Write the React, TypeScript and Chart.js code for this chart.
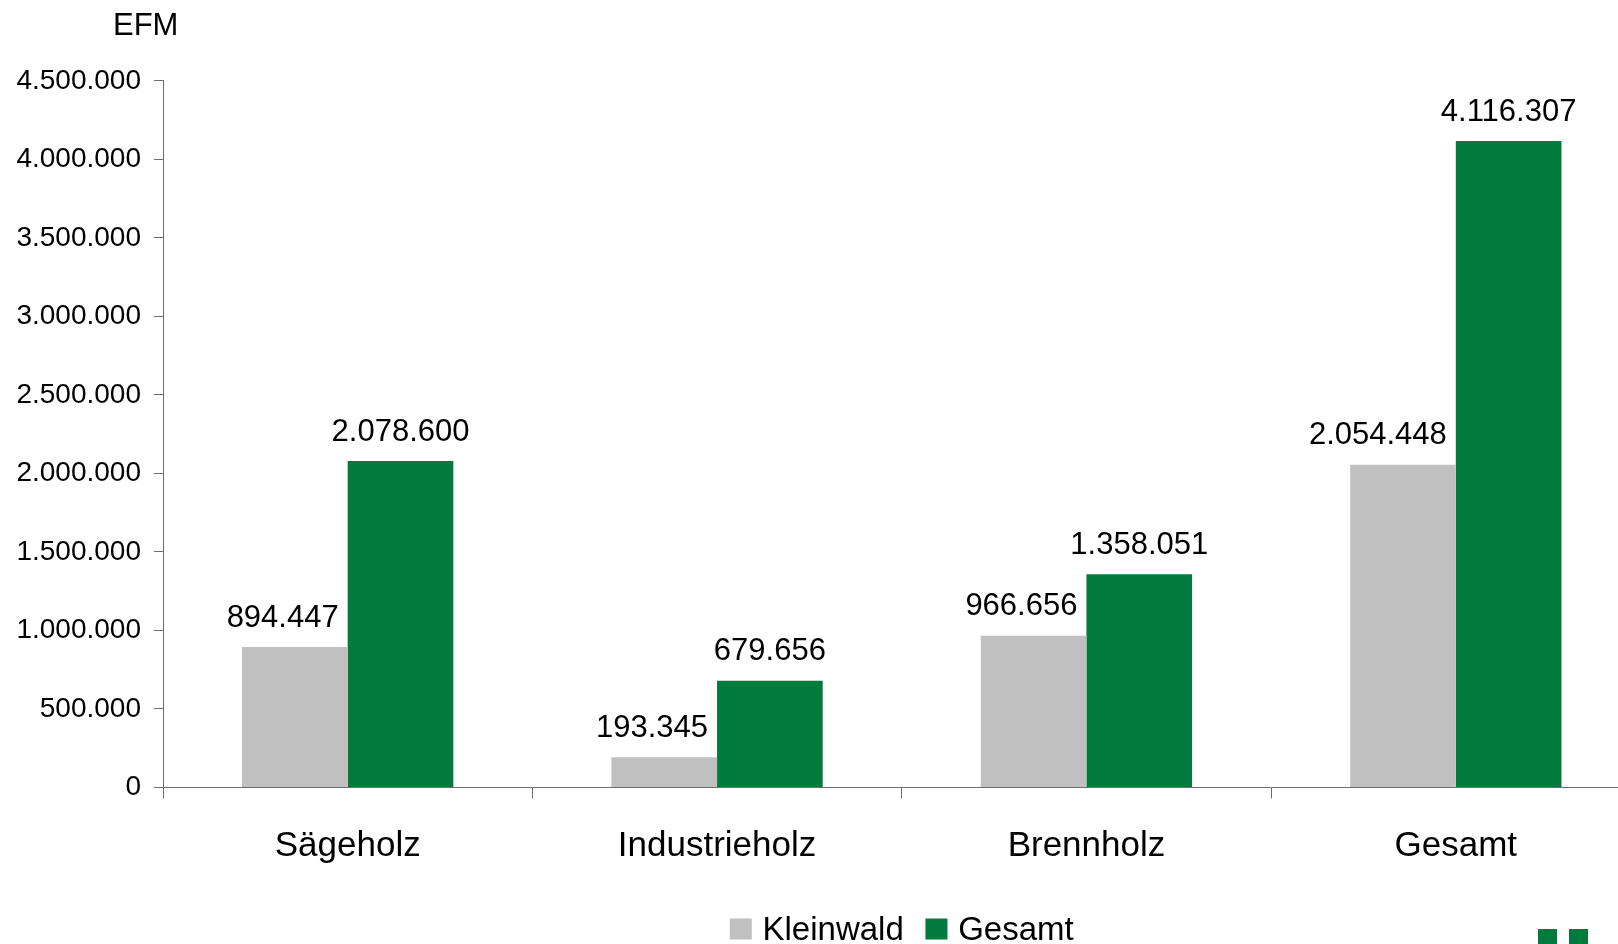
import React, { useEffect, useRef } from 'react';
import { Chart, registerables } from 'chart.js';

Chart.register(...registerables);

const categories = ['Sägeholz', 'Industrieholz', 'Brennholz', 'Gesamt'];
const kleinwaldValues = [894447, 193345, 966656, 2054448];
const gesamtValues = [2078600, 679656, 1358051, 4116307];
const seriesLabels = ['Kleinwald', 'Gesamt'];
const seriesColors = ['#C0C0C0', '#007A3D'];
const yMin = 0;
const yMax = 4500000;
const yStep = 500000;
const unitLabel = 'EFM';

const FONT = '"Liberation Sans", Arial, Helvetica, sans-serif';
const AXIS_COLOR = '#6e6e6e';
const W = 1804;
const H = 944;

const fmt = (v: number) => String(Math.round(v)).replace(/\B(?=(\d{3})+(?!\d))/g, '.');

const decorPlugin = {
  id: 'decor',
  afterDatasetsDraw(chart: any) {
    const ctx = chart.ctx as CanvasRenderingContext2D;
    const m0 = chart.getDatasetMeta(0);
    const m1 = chart.getDatasetMeta(1);
    ctx.save();
    ctx.font = `31px ${FONT}`;
    ctx.fillStyle = '#000';
    ctx.textBaseline = 'alphabetic';
    ctx.textAlign = 'center';
    m1.data.forEach((bar: any, i: number) => {
      const v = chart.data.datasets[1].data[i] as number;
      ctx.fillText(fmt(v), bar.x, bar.y - 20.5);
    });
    m0.data.forEach((bar: any, i: number) => {
      const v = chart.data.datasets[0].data[i] as number;
      const t = fmt(v);
      const w = ctx.measureText(t).width;
      const g = m1.data[i];
      const gl = g.x - g.width / 2;
      const cx = Math.min(bar.x, gl - 9 - w / 2);
      ctx.fillText(t, cx, bar.y - 20.5);
    });
    ctx.restore();
  },
  afterDraw(chart: any) {
    const ctx = chart.ctx as CanvasRenderingContext2D;
    const area = chart.chartArea;
    ctx.save();
    // unit label
    ctx.font = `31px ${FONT}`;
    ctx.fillStyle = '#000';
    ctx.textAlign = 'left';
    ctx.textBaseline = 'alphabetic';
    ctx.fillText(unitLabel, area.left - 50, 35);

    // legend
    ctx.font = `33px ${FONT}`;
    const boxW = 22;
    const boxH = 21;
    const gapBox = 10.7;
    const gapItem = 21.7;
    const widths = chart.data.datasets.map((d: any) => ctx.measureText(d.label).width);
    let total = 0;
    widths.forEach((w: number, i: number) => {
      total += boxW + gapBox + w + (i < widths.length - 1 ? gapItem : 0);
    });
    let x = (area.left + area.right) / 2 - total / 2;
    const boxTop = 918.5;
    const baseline = 939.5;
    chart.data.datasets.forEach((d: any, i: number) => {
      ctx.fillStyle = d.backgroundColor;
      ctx.fillRect(x, boxTop, boxW, boxH);
      x += boxW + gapBox;
      ctx.fillStyle = '#000';
      ctx.fillText(d.label, x, baseline);
      x += widths[i] + gapItem;
    });

    // corner logo fragment
    ctx.fillStyle = '#007A3D';
    ctx.fillRect(1538, 929, 19, 20);
    ctx.fillRect(1569, 929, 19, 20);
    ctx.restore();
  },
};

export default function App() {
  const ref = useRef<HTMLCanvasElement | null>(null);

  useEffect(() => {
    if (!ref.current) return;
    const chart = new Chart(ref.current, {
      type: 'bar',
      data: {
        labels: categories,
        datasets: [
          {
            label: seriesLabels[0],
            data: kleinwaldValues,
            backgroundColor: seriesColors[0],
            borderWidth: 0,
            categoryPercentage: 0.572,
            barPercentage: 1,
          },
          {
            label: seriesLabels[1],
            data: gesamtValues,
            backgroundColor: seriesColors[1],
            borderWidth: 0,
            categoryPercentage: 0.572,
            barPercentage: 1,
          },
        ],
      },
      options: {
        responsive: false,
        animation: false,
        devicePixelRatio: 1,
        layout: { padding: { top: 80.8, right: W - 1640.5, bottom: 0, left: 0 } },
        plugins: {
          legend: { display: false },
          title: { display: false },
          tooltip: { enabled: false },
        },
        scales: {
          x: {
            grid: {
              offset: true,
              drawOnChartArea: false,
              drawTicks: true,
              tickLength: 11,
              color: AXIS_COLOR,
              lineWidth: 1,
            },
            border: { display: true, color: AXIS_COLOR, width: 1 },
            ticks: {
              color: '#000',
              font: { family: FONT, size: 35 },
              padding: 27,
              maxRotation: 0,
              autoSkip: false,
            },
            afterFit: (s: any) => {
              s.height = H - 787.5;
            },
          },
          y: {
            min: yMin,
            max: yMax,
            grid: {
              drawOnChartArea: false,
              drawTicks: true,
              tickLength: 9,
              color: AXIS_COLOR,
              lineWidth: 1,
            },
            border: { display: true, color: AXIS_COLOR, width: 1 },
            ticks: {
              stepSize: yStep,
              color: '#000',
              font: { family: FONT, size: 28 },
              padding: 13,
              callback: (v: any) => fmt(Number(v)),
            },
            afterFit: (s: any) => {
              s.width = 163;
            },
          },
        },
      },
      plugins: [decorPlugin],
    });
    return () => chart.destroy();
  }, []);

  return (
    <div
      style={{
        position: 'fixed',
        left: 0,
        top: 0,
        width: 1618,
        height: 944,
        overflow: 'hidden',
        background: '#fff',
      }}
    >
      <canvas ref={ref} width={W} height={H} style={{ display: 'block', width: W, height: H }} />
    </div>
  );
}
